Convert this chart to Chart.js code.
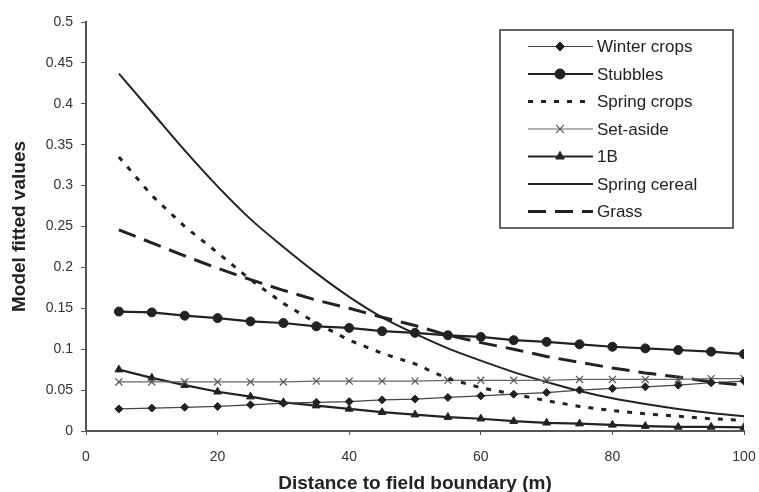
<!DOCTYPE html>
<html>
<head>
<meta charset="utf-8">
<script src="https://cdn.jsdelivr.net/npm/chart.js@4/dist/chart.umd.min.js"></script>
<style>
  html, body { margin: 0; padding: 0; background: #fff; }
  #wrap { width: 759px; height: 492px; }
</style>
</head>
<body>
<div id="wrap"><canvas id="chart" width="759" height="492"></canvas></div>
<script>
// distance to field boundary (m)
const distance = [5, 10, 15, 20, 25, 30, 35, 40, 45, 50, 55, 60, 65, 70, 75, 80, 85, 90, 95, 100];

const winterCrops = [0.027, 0.028, 0.029, 0.030, 0.032, 0.034, 0.035, 0.036, 0.038, 0.039,
                     0.041, 0.043, 0.045, 0.047, 0.050, 0.052, 0.054, 0.056, 0.059, 0.061];
const stubbles = [0.146, 0.145, 0.141, 0.138, 0.134, 0.132, 0.128, 0.126, 0.122, 0.120,
                  0.117, 0.115, 0.111, 0.109, 0.106, 0.103, 0.101, 0.099, 0.097, 0.094];
const springCrops = [0.335, 0.288, 0.250, 0.218, 0.185, 0.156, 0.132, 0.111, 0.095, 0.082,
                     0.064, 0.053, 0.045, 0.037, 0.030, 0.025, 0.021, 0.018, 0.015, 0.013];
const setAside = [0.060, 0.060, 0.060, 0.060, 0.060, 0.060, 0.061, 0.061, 0.061, 0.061,
                  0.062, 0.062, 0.062, 0.062, 0.063, 0.063, 0.063, 0.063, 0.064, 0.064];
const oneB = [0.075, 0.065, 0.056, 0.048, 0.042, 0.035, 0.031, 0.027, 0.023, 0.020,
              0.017, 0.015, 0.012, 0.010, 0.009, 0.0075, 0.006, 0.005, 0.005, 0.0045];
const springCereal = [0.437, 0.390, 0.343, 0.299, 0.259, 0.225, 0.193, 0.164, 0.139, 0.119,
                      0.101, 0.086, 0.072, 0.060, 0.049, 0.040, 0.033, 0.027, 0.022, 0.018];
const grass = [0.246, 0.230, 0.214, 0.199, 0.185, 0.172, 0.160, 0.150, 0.139, 0.129,
               0.117, 0.108, 0.100, 0.091, 0.084, 0.077, 0.071, 0.066, 0.060, 0.056];

const xTicks = [0, 20, 40, 60, 80, 100];

const pts = (vals) => distance.map((d, i) => ({ x: d, y: vals[i] }));

const FONT = "Arial, 'Liberation Sans', sans-serif";

// legend drawn in a box inside the plot, like the original figure
const boxLegend = {
  id: "boxLegend",
  afterDraw(chart) {
    const ctx = chart.ctx;
    const left = 500, top = 30, right = 733, bottom = 228;
    ctx.save();
    ctx.fillStyle = "#fff";
    ctx.fillRect(left, top, right - left, bottom - top);
    ctx.lineWidth = 1.5;
    ctx.strokeStyle = "#333";
    ctx.strokeRect(left, top, right - left, bottom - top);

    chart.data.datasets.forEach((ds, i) => {
      const y = 46.5 + i * 27.5;
      ctx.save();
      ctx.strokeStyle = ds.borderColor;
      ctx.lineWidth = ds.borderWidth;
      ctx.setLineDash(ds.borderDash || []);
      ctx.beginPath();
      ctx.moveTo(528, y);
      ctx.lineTo(593, y);
      ctx.stroke();
      ctx.restore();
      if (ds.pointRadius > 0) {
        ctx.save();
        ctx.fillStyle = ds.pointBackgroundColor;
        ctx.strokeStyle = ds.pointBorderColor;
        ctx.lineWidth = ds.pointBorderWidth;
        Chart.helpers.drawPoint(ctx, {
          pointStyle: ds.pointStyle,
          radius: ds.pointRadius + 0.5,
          rotation: 0,
          borderWidth: ds.pointBorderWidth
        }, 560, y);
        ctx.restore();
      }
      ctx.fillStyle = "#222";
      ctx.font = "17px " + FONT;
      ctx.textBaseline = "middle";
      ctx.textAlign = "left";
      ctx.fillText(ds.label, 597, y + 1);
    });
    ctx.restore();
  }
};

new Chart(document.getElementById("chart"), {
  type: "line",
  data: {
    datasets: [
      {
        label: "Winter crops",
        data: pts(winterCrops),
        borderColor: "#444",
        borderWidth: 1.2,
        pointStyle: "rectRot",
        pointRadius: 4,
        pointBackgroundColor: "#222",
        pointBorderColor: "#222",
        pointBorderWidth: 1
      },
      {
        label: "Stubbles",
        data: pts(stubbles),
        borderColor: "#222",
        borderWidth: 2.2,
        pointStyle: "circle",
        pointRadius: 4.5,
        pointBackgroundColor: "#222",
        pointBorderColor: "#222",
        pointBorderWidth: 1
      },
      {
        label: "Spring crops",
        data: pts(springCrops),
        borderColor: "#222",
        borderWidth: 3,
        borderDash: [5, 8],
        pointRadius: 0
      },
      {
        label: "Set-aside",
        data: pts(setAside),
        borderColor: "#666",
        borderWidth: 1.2,
        pointStyle: "crossRot",
        pointRadius: 5,
        pointBackgroundColor: "#555",
        pointBorderColor: "#555",
        pointBorderWidth: 1.2
      },
      {
        label: "1B",
        data: pts(oneB),
        borderColor: "#222",
        borderWidth: 2.2,
        pointStyle: "triangle",
        pointRadius: 4.5,
        pointBackgroundColor: "#222",
        pointBorderColor: "#222",
        pointBorderWidth: 1
      },
      {
        label: "Spring cereal",
        data: pts(springCereal),
        borderColor: "#222",
        borderWidth: 2,
        pointRadius: 0,
        cubicInterpolationMode: "monotone"
      },
      {
        label: "Grass",
        data: pts(grass),
        borderColor: "#222",
        borderWidth: 3,
        borderDash: [18, 9],
        pointRadius: 0
      }
    ]
  },
  options: {
    responsive: false,
    animation: false,
    layout: { padding: { left: 0, right: 15, top: 22, bottom: 0 } },
    plugins: {
      legend: { display: false },
      tooltip: { enabled: false }
    },
    scales: {
      x: {
        type: "linear",
        min: 0,
        max: 100,
        afterBuildTicks: (s) => { s.ticks = xTicks.map((v) => ({ value: v })); },
        afterFit: (s) => { s.height = 61; s.paddingRight = 0; s.paddingLeft = 0; },
        grid: { drawOnChartArea: false, drawTicks: true, tickLength: 4, color: "#555" },
        border: { display: true, color: "#555", width: 2 },
        ticks: { color: "#333", font: { family: FONT, size: 14 }, padding: 14 },
        title: {
          display: true,
          text: "Distance to field boundary (m)",
          color: "#222",
          font: { family: FONT, size: 19, weight: "bold" },
          padding: { top: 4, bottom: -3 }
        }
      },
      y: {
        min: 0,
        max: 0.5,
        afterFit: (s) => { s.width = 86; },
        grid: { drawOnChartArea: false, drawTicks: true, tickLength: 5, color: "#555" },
        border: { display: true, color: "#555", width: 2 },
        ticks: {
          stepSize: 0.05,
          color: "#333",
          font: { family: FONT, size: 14 },
          padding: 8,
          callback: (v) => String(+v.toFixed(2))
        },
        title: {
          display: true,
          text: "Model fitted values",
          color: "#222",
          font: { family: FONT, size: 19, weight: "bold" },
          padding: { top: 8, bottom: 4 }
        }
      }
    }
  },
  plugins: [boxLegend]
});
</script>
</body>
</html>
